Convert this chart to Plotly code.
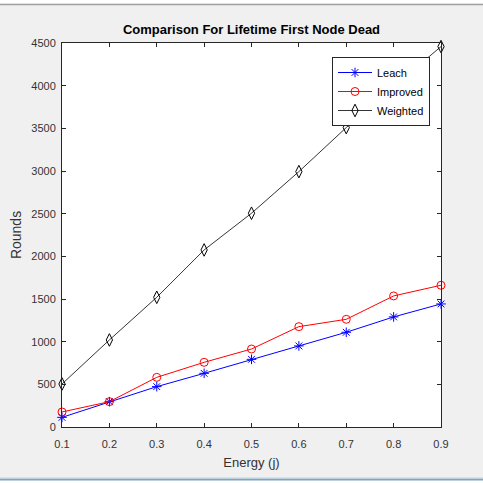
import plotly.graph_objects as go

energy = [0.1, 0.2, 0.3, 0.4, 0.5, 0.6, 0.7, 0.8, 0.9]
leach = [113, 297, 473, 629, 793, 950, 1110, 1290, 1442]
improved = [176, 297, 582, 758, 914, 1176, 1262, 1536, 1661]
weighted = [504, 1020, 1520, 2075, 2505, 2993, 3509, 3990, 4458]
x_ticks = [0.1, 0.2, 0.3, 0.4, 0.5, 0.6, 0.7, 0.8, 0.9]
y_ticks = [0, 500, 1000, 1500, 2000, 2500, 3000, 3500, 4000, 4500]

W, H = 483, 483
L, R, T, B = 62, 42, 43, 56
pw, ph = W - L - R, H - T - B

def px(xp):
    return (xp - L) / pw

def py(yp):
    return (H - B - yp) / ph

fig = go.Figure()
fig.add_trace(go.Scatter(x=energy, y=leach, name="Leach", mode="lines+markers",
                         line=dict(color="#0000ff", width=1),
                         marker=dict(symbol="asterisk-open", size=8, color="#0000ff", line=dict(width=1, color="#0000ff")),
                         cliponaxis=False))
fig.add_trace(go.Scatter(x=energy, y=improved, name="Improved", mode="lines+markers",
                         line=dict(color="#ff0000", width=1),
                         marker=dict(symbol="circle-open", size=8, color="#ff0000", line=dict(width=1, color="#ff0000")),
                         cliponaxis=False))
fig.add_trace(go.Scatter(x=energy, y=weighted, name="Weighted", mode="lines+markers",
                         line=dict(color="#000000", width=0.8),
                         marker=dict(symbol="diamond-tall-open", size=9, color="#000000", line=dict(width=1, color="#000000")),
                         cliponaxis=False))

font_family = "Liberation Sans, Arial, sans-serif"
axis_common = dict(showline=True, linecolor="#262626", linewidth=1, mirror="ticks",
                   ticks="inside", ticklen=4, tickcolor="#262626", showgrid=False,
                   zeroline=False, tickfont=dict(family=font_family, size=11, color="#333333"))

fig.update_layout(
    width=W, height=H,
    margin=dict(l=L, r=R, t=T, b=B, autoexpand=False),
    paper_bgcolor="#f0f0f0", plot_bgcolor="#ffffff",
    title=dict(text="<b>Comparison For Lifetime First Node Dead</b>", x=(L + pw / 2) / W, xanchor="center",
               y=1 - 29 / H, yanchor="middle", font=dict(family=font_family, size=13, color="#000000")),
    xaxis=dict(range=[0.1, 0.9], tickvals=x_ticks, ticktext=[str(v) for v in x_ticks],
               ticklabelstandoff=7,
               title=dict(text="Energy (j)", font=dict(family=font_family, size=13, color="#333333"), standoff=8),
               **axis_common),
    yaxis=dict(range=[0, 4500], tickvals=y_ticks, ticktext=[str(v) for v in y_ticks],
               ticklabelstandoff=3,
               title=dict(text="Rounds", font=dict(family=font_family, size=14, color="#333333"), standoff=6),
               **axis_common),
    legend=dict(x=px(332), y=py(57), xanchor="left", yanchor="top", bgcolor="#ffffff",
                bordercolor="#262626", borderwidth=1, font=dict(family=font_family, size=11, color="#000000"),
                itemwidth=34, tracegroupgap=0),
    showlegend=True,
    shapes=[
        dict(type="rect", xref="paper", yref="paper", x0=px(-2), x1=px(W + 2), y0=py(-2), y1=py(3.5),
             fillcolor="#ffffff", line=dict(width=0), layer="below"),
        dict(type="line", xref="paper", yref="paper", x0=px(0), x1=px(W), y0=py(4.5), y1=py(4.5),
             line=dict(color="#a0a0a0", width=1.5)),
        dict(type="rect", xref="paper", yref="paper", x0=px(-2), x1=px(W + 2), y0=py(478), y1=py(485),
             fillcolor="#ffffff", line=dict(width=0), layer="below"),
        dict(type="line", xref="paper", yref="paper", x0=px(0), x1=px(W), y0=py(477.5), y1=py(477.5),
             line=dict(color="#cde6f2", width=1)),
        dict(type="line", xref="paper", yref="paper", x0=px(0), x1=px(W), y0=py(479.5), y1=py(479.5),
             line=dict(color="#7aa8c0", width=2)),
    ],
)

fig.write_html("out.html")
